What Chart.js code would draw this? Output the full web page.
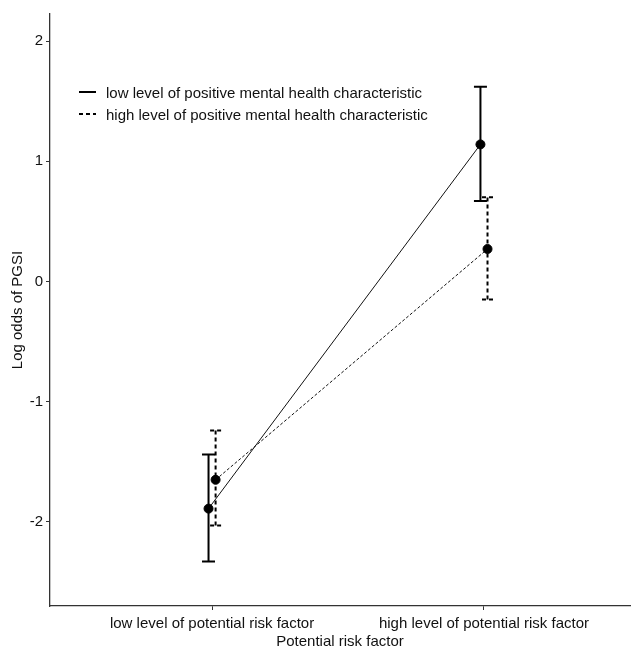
<!DOCTYPE html>
<html>
<head>
<meta charset="utf-8">
<script src="https://cdn.jsdelivr.net/npm/chart.js@4/dist/chart.umd.min.js"></script>
<style>
  html, body { margin: 0; padding: 0; background: #fff; }
  #wrap { width: 643px; height: 648px; }
</style>
</head>
<body>
<div id="wrap"><canvas id="chart"></canvas></div>
<script>
// === DONNEES ===
const categories = ["low level of potential risk factor", "high level of potential risk factor"];
const seriesNames = ["low level of positive mental health characteristic", "high level of positive mental health characteristic"];
const lowMean = [-1.89, 1.14];
const lowLower = [-2.33, 0.67];
const lowUpper = [-1.44, 1.62];
const highMean = [-1.65, 0.27];
const highLower = [-2.03, -0.15];
const highUpper = [-1.24, 0.70];
const yTicks = [-2, -1, 0, 1, 2];
const dodge = 0.013;

const FONT = "'Liberation Sans', Arial, sans-serif";

function makePoints(means, shift) {
  return categories.map((c, i) => ({ x: i + 1 + shift, y: means[i] }));
}

// === BARRES D'ERREUR ===
const errorBars = {
  id: "errorBars",
  beforeDatasetsDraw(chart) {
    const ctx = chart.ctx, xs = chart.scales.x, ys = chart.scales.y;
    chart.data.datasets.forEach(ds => {
      ctx.save();
      ctx.strokeStyle = "#000";
      ctx.lineWidth = 2;
      ctx.setLineDash(ds.barDash);
      ds.data.forEach((p, i) => {
        const x = xs.getPixelForValue(p.x);
        const yLo = ys.getPixelForValue(ds.lower[i]);
        const yHi = ys.getPixelForValue(ds.upper[i]);
        ctx.beginPath();
        ctx.moveTo(x, yLo); ctx.lineTo(x, yHi);
        ctx.moveTo(x - ds.cap, yLo); ctx.lineTo(x + ds.cap, yLo);
        ctx.moveTo(x - ds.cap, yHi); ctx.lineTo(x + ds.cap, yHi);
        ctx.stroke();
      });
      ctx.restore();
    });
  }
};

// === LEGENDE DANS LE GRAPHE ===
const innerLegend = {
  id: "innerLegend",
  afterDraw(chart) {
    const ctx = chart.ctx, a = chart.chartArea;
    ctx.save();
    ctx.font = "15px " + FONT;
    ctx.fillStyle = "#111";
    ctx.textBaseline = "middle";
    chart.data.datasets.forEach((ds, i) => {
      const y = a.top + 80 + i * 22;
      ctx.strokeStyle = "#000";
      ctx.lineWidth = 2;
      ctx.setLineDash(ds.barDash);
      ctx.beginPath();
      ctx.moveTo(a.left + 29, y - 2); ctx.lineTo(a.left + 46, y - 2);
      ctx.stroke();
      ctx.setLineDash([]);
      ctx.fillText(ds.label, a.left + 56, y);
    });
    ctx.restore();
  }
};

new Chart(document.getElementById("chart"), {
  type: "line",
  data: {
    datasets: [
      {
        label: seriesNames[0],
        data: makePoints(lowMean, -dodge),
        lower: lowLower, upper: lowUpper,
        cap: 6.5, barDash: [],
        borderColor: "#111", borderWidth: 1, borderDash: [],
        pointRadius: 4.5, pointBackgroundColor: "#000", pointBorderColor: "#000",
        tension: 0
      },
      {
        label: seriesNames[1],
        data: makePoints(highMean, dodge),
        lower: highLower, upper: highUpper,
        cap: 5.5, barDash: [4, 3],
        borderColor: "#111", borderWidth: 1, borderDash: [3, 2],
        pointRadius: 4.5, pointBackgroundColor: "#000", pointBorderColor: "#000",
        tension: 0
      }
    ]
  },
  options: {
    responsive: true,
    maintainAspectRatio: false,
    animation: false,
    events: [],
    layout: { padding: { top: 14, right: 13, left: 0, bottom: 0 } },
    plugins: { legend: { display: false }, tooltip: { enabled: false } },
    scales: {
      x: {
        type: "linear",
        min: 0.404,
        max: 2.537,
        afterBuildTicks: s => { s.ticks = categories.map((c, i) => ({ value: i + 1 })); },
        ticks: {
          callback: v => categories[v - 1] || "",
          autoSkip: false, maxRotation: 0, padding: 5,
          color: "#111", font: { size: 15, family: FONT }
        },
        grid: { drawOnChartArea: false, tickLength: 4, color: "#333" },
        border: { color: "#333", width: 1.3 },
        title: {
          display: true, text: "Potential risk factor",
          color: "#111", font: { size: 15, family: FONT }, padding: { top: 0, bottom: -3 }
        },
        afterFit: s => { s.height = 42; }
      },
      y: {
        min: -2.7,
        max: 2.225,
        afterBuildTicks: s => { s.ticks = yTicks.map(v => ({ value: v })); },
        ticks: {
          callback: v => String(v),
          padding: 3, color: "#111", font: { size: 15, family: FONT }
        },
        grid: { drawOnChartArea: false, tickLength: 4, color: "#333" },
        border: { color: "#333", width: 1.3 },
        title: {
          display: true, text: "Log odds of PGSI",
          color: "#111", font: { size: 15, family: FONT }, padding: { top: 9, bottom: 0 }
        },
        afterFit: s => { s.width = 50; }
      }
    }
  },
  plugins: [errorBars, innerLegend]
});
</script>
</body>
</html>
